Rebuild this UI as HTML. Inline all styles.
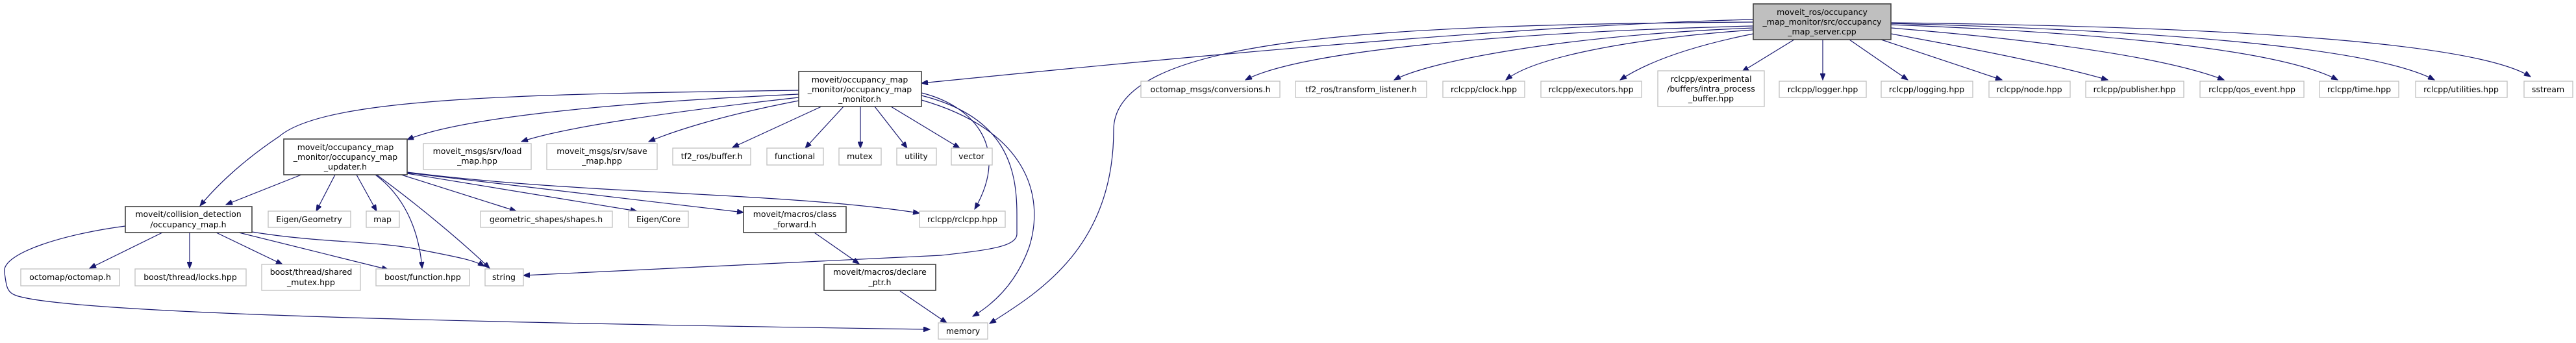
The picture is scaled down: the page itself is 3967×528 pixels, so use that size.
<!DOCTYPE html>
<html><head><meta charset="utf-8"><style>
html,body{margin:0;padding:0;background:#fff;}
svg{display:block;}
text{font-family:"DejaVu Sans","Liberation Sans",sans-serif;font-size:12.5px;fill:#000;}
.l{fill:#fff;stroke:#bfbfbf;stroke-width:1.3;}
.n{fill:#fff;stroke:#404040;stroke-width:1.6;}
.m{fill:#bfbfbf;stroke:#404040;stroke-width:1.6;}
.e{fill:none;stroke:#191970;stroke-width:1.2;}
</style></head><body>
<svg width="3967" height="528" viewBox="0 0 3967 528" xmlns="http://www.w3.org/2000/svg">
<defs><marker id="a" markerUnits="userSpaceOnUse" markerWidth="11" markerHeight="8" refX="10" refY="4" orient="auto"><path d="M0,0 L10,4 L0,8 z" fill="#191970" stroke="#191970"/></marker></defs>
<g class="edges">
<path class="e" marker-end="url(#a)" d="M2700,30 C2300,40 1700,100 1419,128"/>
<path class="e" marker-end="url(#a)" d="M2700,34 C2100,38 1715,60 1715,200 C1715,380 1600,450 1524,498"/>
<path class="e" marker-end="url(#a)" d="M2700,40 C2300,50 2000,80 1918,123"/>
<path class="e" marker-end="url(#a)" d="M2700,43 C2400,55 2200,95 2147,123"/>
<path class="e" marker-end="url(#a)" d="M2700,46 C2500,60 2360,90 2319,123"/>
<path class="e" marker-end="url(#a)" d="M2700,52 Q2560,80 2495,123"/>
<path class="e" marker-end="url(#a)" d="M2763,61 L2683,110"/>
<path class="e" marker-end="url(#a)" d="M2807,61 L2807,123"/>
<path class="e" marker-end="url(#a)" d="M2848,61 L2938,123"/>
<path class="e" marker-end="url(#a)" d="M2897,61 L3083,123"/>
<path class="e" marker-end="url(#a)" d="M2912,52 Q3150,95 3246,123"/>
<path class="e" marker-end="url(#a)" d="M2912,43 Q3300,75 3425,123"/>
<path class="e" marker-end="url(#a)" d="M2912,38 Q3480,60 3600,123"/>
<path class="e" marker-end="url(#a)" d="M2912,36 Q3620,55 3749,123"/>
<path class="e" marker-end="url(#a)" d="M2912,35 Q3780,45 3897,118"/>
<path class="e" marker-end="url(#a)" d="M1230,145 C900,160 700,185 627,215"/>
<path class="e" marker-end="url(#a)" d="M1230,139 C800,145 500,150 430,210 C370,250 330,290 308,317"/>
<path class="e" marker-end="url(#a)" d="M1230,150 C1050,170 870,195 803,218"/>
<path class="e" marker-end="url(#a)" d="M1230,155 C1100,180 1030,205 999,218"/>
<path class="e" marker-end="url(#a)" d="M1265,164 L1128,227"/>
<path class="e" marker-end="url(#a)" d="M1299,164 L1240,228"/>
<path class="e" marker-end="url(#a)" d="M1325,164 L1325,228"/>
<path class="e" marker-end="url(#a)" d="M1347,164 L1397,228"/>
<path class="e" marker-end="url(#a)" d="M1372,164 L1478,228"/>
<path class="e" marker-end="url(#a)" d="M1419,143 C1490,160 1560,220 1501,322"/>
<path class="e" marker-end="url(#a)" d="M1419,147 C1550,180 1566,260 1566,330 L1566,360 C1566,380 1520,385 1450,393 L806,424"/>
<path class="e" marker-end="url(#a)" d="M1419,154 C1580,200 1610,300 1585,380 Q1560,450 1498,487"/>
<path class="e" marker-end="url(#a)" d="M464,269 L348,315"/>
<path class="e" marker-end="url(#a)" d="M516,269 L487,325"/>
<path class="e" marker-end="url(#a)" d="M549,269 L580,325"/>
<path class="e" marker-end="url(#a)" d="M578,269 C620,300 645,350 650,413"/>
<path class="e" marker-end="url(#a)" d="M580,269 C650,320 720,380 754,413"/>
<path class="e" marker-end="url(#a)" d="M618,269 L795,325"/>
<path class="e" marker-end="url(#a)" d="M627,267 L981,325"/>
<path class="e" marker-end="url(#a)" d="M627,266 L1145,327"/>
<path class="e" marker-end="url(#a)" d="M627,265 C900,300 1200,295 1416,328"/>
<path class="e" marker-end="url(#a)" d="M250,358 L138,413"/>
<path class="e" marker-end="url(#a)" d="M292,358 L292,413"/>
<path class="e" marker-end="url(#a)" d="M333,358 L435,407"/>
<path class="e" marker-end="url(#a)" d="M368,358 L598,415"/>
<path class="e" marker-end="url(#a)" d="M388,357 C500,375 580,370 650,385 C700,395 730,400 746,410"/>
<path class="e" marker-end="url(#a)" d="M193,348 C100,360 0,390 7,420 C10,440 10,450 25,455 C100,480 600,495 1432,507"/>
<path class="e" marker-end="url(#a)" d="M1254,358 L1323,406"/>
<path class="e" marker-end="url(#a)" d="M1386,448 L1458,497"/>
</g>
<g text-anchor="middle">
<rect class="m" x="2700" y="6" width="212" height="55"/>
<text x="2806" y="23">moveit_ros/occupancy</text><text x="2806" y="38">_map_monitor/src/occupancy</text><text x="2806" y="53">_map_server.cpp</text>

<rect class="l" x="1757" y="125" width="214" height="25"/><text x="1864" y="142">octomap_msgs/conversions.h</text>
<rect class="l" x="1995" y="125" width="202" height="25"/><text x="2096" y="142">tf2_ros/transform_listener.h</text>
<rect class="l" x="2222" y="125" width="126" height="25"/><text x="2285" y="142">rclcpp/clock.hpp</text>
<rect class="l" x="2373" y="125" width="155" height="25"/><text x="2450" y="142">rclcpp/executors.hpp</text>
<rect class="l" x="2553" y="109" width="164" height="55"/><text x="2635" y="126">rclcpp/experimental</text><text x="2635" y="141">/buffers/intra_process</text><text x="2635" y="156">_buffer.hpp</text>
<rect class="l" x="2740" y="125" width="134" height="25"/><text x="2807" y="142">rclcpp/logger.hpp</text>
<rect class="l" x="2897" y="125" width="141" height="25"/><text x="2967" y="142">rclcpp/logging.hpp</text>
<rect class="l" x="3063" y="125" width="125" height="25"/><text x="3125" y="142">rclcpp/node.hpp</text>
<rect class="l" x="3212" y="125" width="151" height="25"/><text x="3287" y="142">rclcpp/publisher.hpp</text>
<rect class="l" x="3388" y="125" width="160" height="25"/><text x="3468" y="142">rclcpp/qos_event.hpp</text>
<rect class="l" x="3572" y="125" width="122" height="25"/><text x="3633" y="142">rclcpp/time.hpp</text>
<rect class="l" x="3720" y="125" width="141" height="25"/><text x="3790" y="142">rclcpp/utilities.hpp</text>
<rect class="l" x="3887" y="125" width="75" height="25"/><text x="3924" y="142">sstream</text>

<rect class="n" x="1230" y="110" width="189" height="54"/>
<text x="1324" y="127">moveit/occupancy_map</text><text x="1324" y="142">_monitor/occupancy_map</text><text x="1324" y="157">_monitor.h</text>

<rect class="n" x="437" y="214" width="190" height="55"/>
<text x="532" y="231">moveit/occupancy_map</text><text x="532" y="246">_monitor/occupancy_map</text><text x="532" y="261">_updater.h</text>
<rect class="l" x="652" y="221" width="166" height="40"/><text x="735" y="237">moveit_msgs/srv/load</text><text x="735" y="252">_map.hpp</text>
<rect class="l" x="842" y="221" width="170" height="40"/><text x="927" y="237">moveit_msgs/srv/save</text><text x="927" y="252">_map.hpp</text>
<rect class="l" x="1036" y="228" width="120" height="26"/><text x="1096" y="245">tf2_ros/buffer.h</text>
<rect class="l" x="1181" y="228" width="87" height="26"/><text x="1224" y="245">functional</text>
<rect class="l" x="1292" y="228" width="65" height="26"/><text x="1324" y="245">mutex</text>
<rect class="l" x="1381" y="228" width="61" height="26"/><text x="1411" y="245">utility</text>
<rect class="l" x="1465" y="228" width="63" height="26"/><text x="1496" y="245">vector</text>

<rect class="n" x="193" y="318" width="195" height="40"/><text x="290" y="334">moveit/collision_detection</text><text x="290" y="350">/occupancy_map.h</text>
<rect class="l" x="413" y="325" width="127" height="25"/><text x="476" y="342">Eigen/Geometry</text>
<rect class="l" x="564" y="325" width="51" height="25"/><text x="589" y="342">map</text>
<rect class="l" x="740" y="325" width="203" height="25"/><text x="841" y="342">geometric_shapes/shapes.h</text>
<rect class="l" x="968" y="325" width="92" height="25"/><text x="1014" y="342">Eigen/Core</text>
<rect class="n" x="1145" y="318" width="158" height="40"/><text x="1224" y="334">moveit/macros/class</text><text x="1224" y="350">_forward.h</text>
<rect class="l" x="1416" y="325" width="132" height="25"/><text x="1482" y="342">rclcpp/rclcpp.hpp</text>

<rect class="l" x="32" y="414" width="152" height="26"/><text x="108" y="431">octomap/octomap.h</text>
<rect class="l" x="208" y="414" width="171" height="26"/><text x="293" y="431">boost/thread/locks.hpp</text>
<rect class="l" x="403" y="407" width="152" height="40"/><text x="479" y="423">boost/thread/shared</text><text x="479" y="439">_mutex.hpp</text>
<rect class="l" x="579" y="414" width="144" height="26"/><text x="651" y="431">boost/function.hpp</text>
<rect class="l" x="747" y="414" width="59" height="26"/><text x="776" y="431">string</text>
<rect class="n" x="1269" y="407" width="172" height="40"/><text x="1355" y="423">moveit/macros/declare</text><text x="1355" y="439">_ptr.h</text>
<rect class="l" x="1445" y="497" width="76" height="25"/><text x="1483" y="514">memory</text>
</g>
</svg>
</body></html>
